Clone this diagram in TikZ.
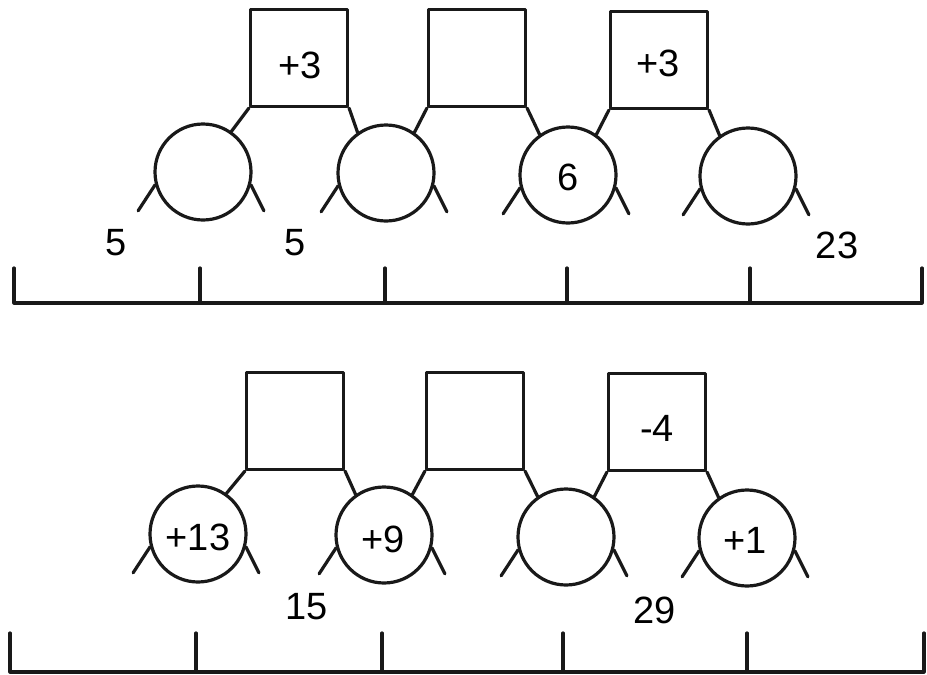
\documentclass[tikz,border=0pt]{standalone}
\usepackage{fontspec}
\setmainfont{Liberation Sans}
\begin{document}
\begin{tikzpicture}[x=1pt,y=-1pt,
  every node/.style={font=\fontsize{38}{40}\selectfont},
  ln/.style={line width=3.2pt, line cap=round, line join=round, black!90},
  ring/.style={ln, draw, circle, minimum size=96pt, inner sep=0pt},
  sq/.style={ln, draw, rectangle, minimum width=97pt, minimum height=97pt, inner sep=0pt},
  lbl/.style={inner sep=0pt}]
\useasboundingbox (0,0) rectangle (927,675);
\fill[white] (0,0) rectangle (927,675);

% ---------------- top panel ----------------
\node[sq] (tb1) at (299,58) {};
\node[sq] (tb2) at (477,58) {};
\node[sq] (tb3) at (659,60) {};
\node[ring] (tc1) at (203,172) {};
\node[ring] (tc2) at (386,173) {};
\node[ring] (tc3) at (568,175) {};
\node[ring] (tc4) at (748,176) {};

\draw[ln] (tb1.south west) -- (tc1.55);
\draw[ln] (tb1.south east) -- (tc2.125);
\draw[ln] (tb2.south west) -- (tc2.55);
\draw[ln] (tb2.south east) -- (tc3.125);
\draw[ln] (tb3.south west) -- (tc3.55);
\draw[ln] (tb3.south east) -- (tc4.125);

\foreach \c in {tc1,tc2,tc3,tc4}{
  \draw[ln] (\c.195) -- ++(-17,26);
  \draw[ln] (\c.-15) -- ++(13,26);
}

\node[lbl] at (300,65) {+3};
\node[lbl] at (658,63) {+3};
\node[lbl] at (568,177) {6};
\node[lbl] at (116,243) {5};
\node[lbl] at (295,243) {5};
\node[lbl] at (837,245) {23};

\coordinate (tl) at (14,268);
\coordinate (tr) at (922,268);
\draw[ln] (tl) -- (14,303) -- (922,303) -- (tr);
\foreach \x in {200,385,567,750}{
  \draw[ln] (\x,268) -- (\x,303);
}

% ---------------- bottom panel ----------------
\node[sq] (bb1) at (295,421) {};
\node[sq] (bb2) at (475,421) {};
\node[sq] (bb3) at (657,422) {};
\node[ring] (bc1) at (198,534) {};
\node[ring] (bc2) at (384,535) {};
\node[ring] (bc3) at (566,537) {};
\node[ring] (bc4) at (747,538) {};

\draw[ln] (bb1.south west) -- (bc1.55);
\draw[ln] (bb1.south east) -- (bc2.125);
\draw[ln] (bb2.south west) -- (bc2.55);
\draw[ln] (bb2.south east) -- (bc3.125);
\draw[ln] (bb3.south west) -- (bc3.55);
\draw[ln] (bb3.south east) -- (bc4.125);

\foreach \c in {bc1,bc2,bc3,bc4}{
  \draw[ln] (\c.195) -- ++(-17,26);
  \draw[ln] (\c.-15) -- ++(13,26);
}

\node[lbl] at (198,537) {+13};
\node[lbl] at (383,539) {+9};
\node[lbl] at (745,540) {+1};
\node[lbl] at (657,428) {-4};
\node[lbl] at (307,607) {15};
\node[lbl] at (655,610) {29};

\coordinate (bl) at (10,633);
\coordinate (br) at (924,633);
\draw[ln] (bl) -- (10,672) -- (924,672) -- (br);
\foreach \x in {196,382,563,747}{
  \draw[ln] (\x,633) -- (\x,672);
}
\end{tikzpicture}
\end{document}
